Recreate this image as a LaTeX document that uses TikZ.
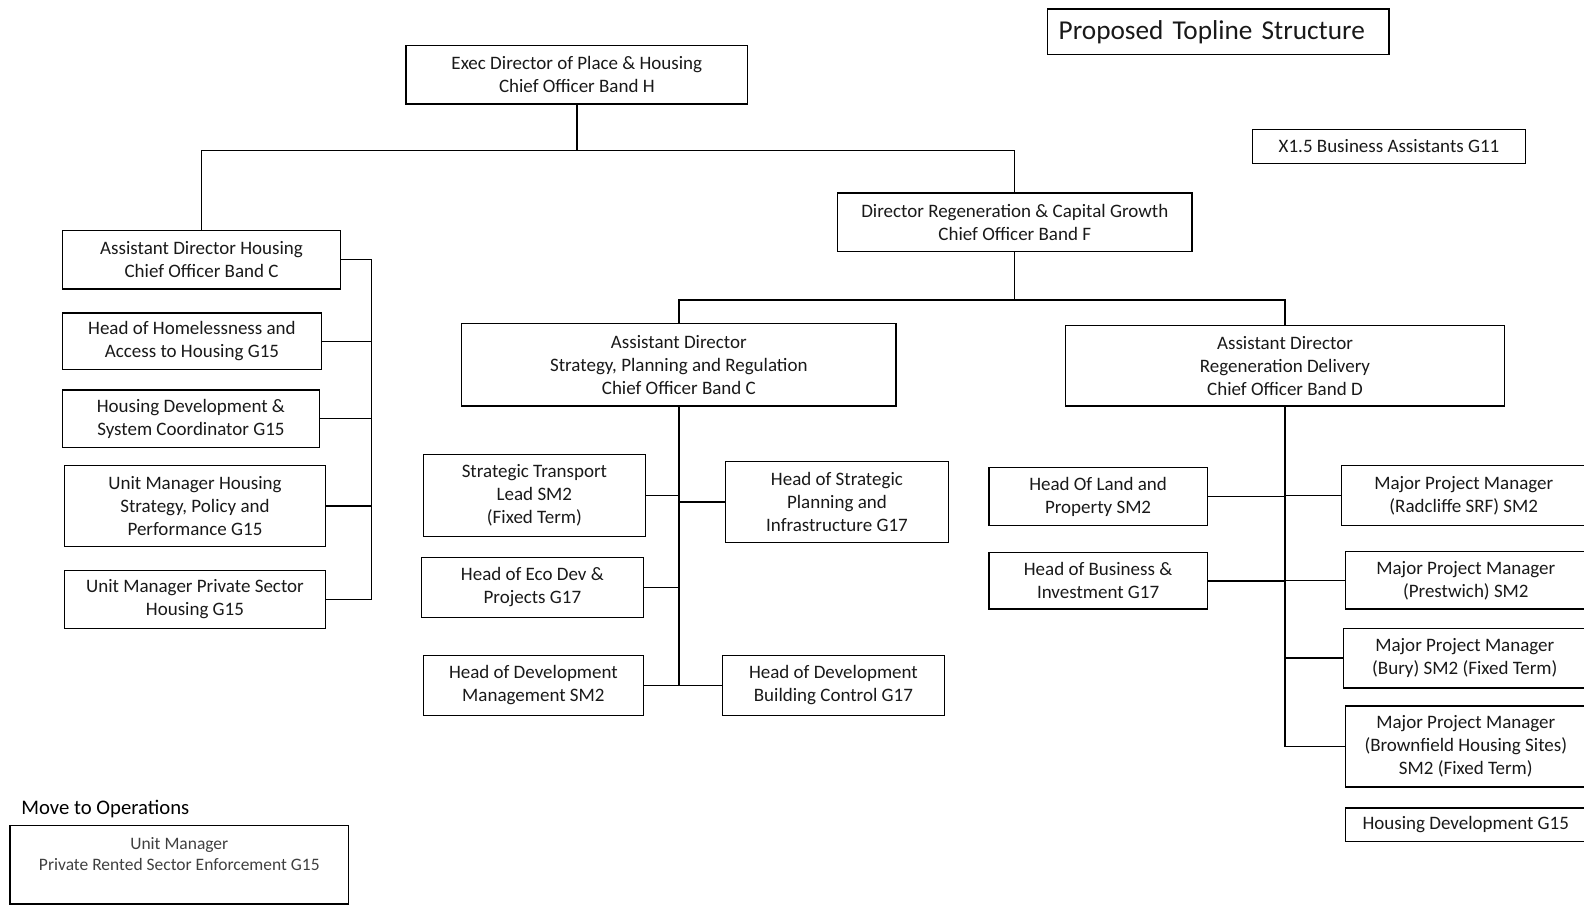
\documentclass[tikz,border=0pt]{standalone}
\usepackage{fontspec}
\setmainfont{Carlito}
\begin{document}
\begin{tikzpicture}[x=1pt,y=-1pt,
  box/.style={draw, line width=1.4pt, inner sep=2pt, align=center, text=black!90,
    font=\fontsize{18.8}{22.8}\selectfont},
  conn/.style={line width=1.4pt}]
\useasboundingbox (0,0) rectangle (1568,897);
% title and side boxes
\node[box, minimum width=338pt, minimum height=45pt, text width=316pt, inner xsep=11pt, align=left,
  font=\fontsize{27}{30}\selectfont] (title) at (1206,31.5) {Proposed Topline Structure};
\node[box, minimum width=270pt, minimum height=34pt] (busa) at (1375,145) {X1.5 Business Assistants G11};
% top levels
\node[box, minimum width=338pt, minimum height=58pt] (exec) at (571,74) {Exec Director of Place \& Housing\\Chief Officer Band H};
\node[box, minimum width=351pt, minimum height=58pt] (drcg) at (1004.5,220) {Director Regeneration \& Capital Growth\\Chief Officer Band F};
\node[box, minimum width=275pt, minimum height=58pt] (adh) at (199.5,257) {Assistant Director Housing\\Chief Officer Band C};
% housing column
\node[box, minimum width=256pt, minimum height=56pt] (hom) at (190,338) {Head of Homelessness and\\Access to Housing G15};
\node[box, minimum width=254pt, minimum height=57pt] (hdsc) at (189,414.5) {Housing Development \&\\System Coordinator G15};
\node[box, minimum width=258pt, minimum height=80pt] (umh) at (193,501) {Unit Manager Housing\\Strategy, Policy and\\Performance G15};
\node[box, minimum width=258pt, minimum height=57pt] (umps) at (193,593.5) {Unit Manager Private Sector\\Housing G15};
% strategy column
\node[box, minimum width=430pt, minimum height=82pt] (adspr) at (672,361) {Assistant Director\\Strategy, Planning and Regulation\\Chief Officer Band C};
\node[box, minimum width=220pt, minimum height=81pt] (stl) at (529,490.5) {Strategic Transport\\Lead SM2\\(Fixed Term)};
\node[box, minimum width=220pt, minimum height=59pt] (eco) at (527,581.5) {Head of Eco Dev \&\\Projects G17};
\node[box, minimum width=218pt, minimum height=59pt] (hdm) at (528,678.5) {Head of Development\\Management SM2};
\node[box, minimum width=221pt, minimum height=80pt] (hsp) at (828.5,497) {Head of Strategic\\Planning and\\Infrastructure G17};
\node[box, minimum width=220pt, minimum height=59pt] (hdbc) at (825,678.5) {Head of Development\\Building Control G17};
% regeneration column
\node[box, minimum width=434pt, minimum height=80pt] (adrd) at (1272,362) {Assistant Director\\Regeneration Delivery\\Chief Officer Band D};
\node[box, minimum width=216pt, minimum height=57pt] (hlp) at (1087,491.5) {Head Of Land and\\Property SM2};
\node[box, minimum width=216pt, minimum height=56pt] (hbi) at (1087,575) {Head of Business \&\\Investment G17};
\node[box, minimum width=242pt, minimum height=59pt] (mrad) at (1449,490.5) {Major Project Manager\\(Radcliffe SRF) SM2};
\node[box, minimum width=238pt, minimum height=57pt] (mpre) at (1451,574.5) {Major Project Manager\\(Prestwich) SM2};
\node[box, minimum width=240pt, minimum height=59pt] (mbur) at (1450,651.5) {Major Project Manager\\(Bury) SM2 (Fixed Term)};
\node[box, minimum width=238pt, minimum height=80pt] (mbro) at (1451,739) {Major Project Manager\\(Brownfield Housing Sites)\\SM2 (Fixed Term)};
\node[box, minimum width=238pt, minimum height=33pt] (hdev) at (1451,816.5) {Housing Development G15};
% move to operations
\node[anchor=west, inner sep=0pt, font=\fontsize{20.5}{24}\selectfont] (mto) at (21,801) {Move to Operations};
\node[box, minimum width=335pt, minimum height=78pt, text=black!75, font=\fontsize{17.3}{21}\selectfont] (umprs) at (177.5,856) {Unit Manager\\Private Rented Sector Enforcement G15\\\mbox{}};
% connectors
\coordinate (j1) at (571,149);
\draw[conn] (exec.south) -- (j1);
\draw[conn] (adh.north) |- (j1) -| (drcg.north);
\coordinate (j2) at (1004.5,297);
\draw[conn] (drcg.south) -- (j2);
\draw[conn] (adspr.north) |- (j2) -| (adrd.north);
\coordinate (lt) at (368,257);
\draw[conn] (adh.east) -- (lt);
\draw[conn] (umps.east) -| (lt);
\draw[conn] (hom.east) -- (hom.east -| lt);
\draw[conn] (hdsc.east) -- (hdsc.east -| lt);
\draw[conn] (umh.east) -- (umh.east -| lt);
\draw[conn] (adspr.south) |- (hdbc.west);
\draw[conn] (stl.east) -- (stl.east -| adspr.south);
\draw[conn] (eco.east) -- (eco.east -| adspr.south);
\draw[conn] (hdm.east) -- (hdm.east -| adspr.south);
\draw[conn] (hsp.west) -- (hsp.west -| adspr.south);
\draw[conn] (adrd.south) |- (mbro.west);
\draw[conn] (hlp.east) -- (hlp.east -| adrd.south);
\draw[conn] (hbi.east) -- (hbi.east -| adrd.south);
\draw[conn] (mrad.west) -- (mrad.west -| adrd.south);
\draw[conn] (mpre.west) -- (mpre.west -| adrd.south);
\draw[conn] (mbur.west) -- (mbur.west -| adrd.south);
\end{tikzpicture}
\end{document}
